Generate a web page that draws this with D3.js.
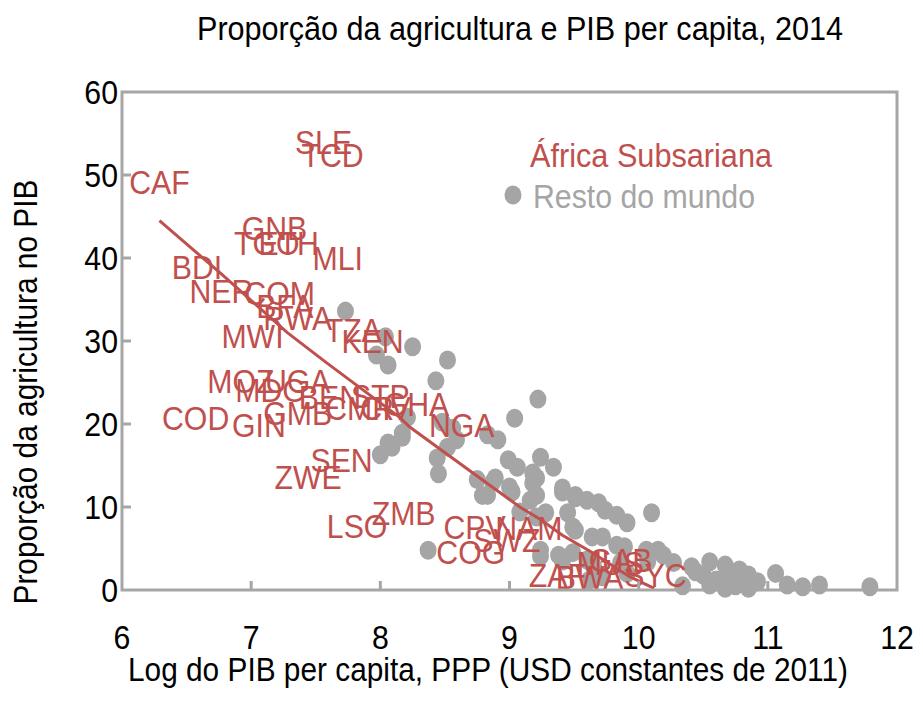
<!DOCTYPE html>
<html>
<head>
<meta charset="utf-8">
<script src="https://cdn.jsdelivr.net/npm/d3@7"></script>
<style>
  body { margin: 0; background: #fff; }
  text { font-family: "Liberation Sans", Arial, sans-serif; }
</style>
</head>
<body>
<script>
// CHART VALUES
const titleText = "Proporção da agricultura e PIB per capita, 2014";
const xTitle = "Log do PIB per capita, PPP (USD constantes de 2011)";
const yTitle = "Proporção da agricultura no PIB";
const xTicks = [6, 7, 8, 9, 10, 11, 12];
const yTicks = [0, 10, 20, 30, 40, 50, 60];
const legendNames = ["África Subsariana", "Resto do mundo"];

// sub-saharan africa: [code, log gdp pc, agri share]
const ssaCodes = ["SLE","TCD","CAF","GNB","TGO","ETH","MLI","BDI","NER","COM","BFA","RWA","TZA","KEN","MWI",
  "MOZ","UGA","MDG","BEN","STP","CMR","CIV","GHA","NGA","COD","GIN","GMB","SEN","ZWE","LSO","ZMB",
  "CPV","NAM","SWZ","COG","ZAF","BWA","MUS","GAB","SYC"];
const ssaX = [7.56,7.63,6.29,7.18,7.12,7.29,7.67,6.58,6.77,7.22,7.26,7.36,7.79,7.94,7.01,
  6.92,7.36,7.15,7.61,8.00,7.84,8.04,8.28,8.63,6.57,7.06,7.36,7.70,7.44,7.82,8.18,
  8.73,9.15,8.98,8.70,9.37,9.62,9.78,9.86,10.13];
const ssaY = [54.0,52.4,49.2,43.6,41.8,41.8,40.0,39.0,36.1,35.8,34.2,32.8,31.3,30.0,30.6,
  25.2,25.2,24.1,23.3,23.4,21.9,22.0,22.4,19.9,20.8,19.9,21.3,15.7,13.7,7.8,9.3,
  7.6,7.5,6.0,4.6,1.8,1.6,3.3,3.6,1.8];

// rest of the world
const restX = [7.73,8.04,8.25,7.97,8.06,8.52,8.43,8.21,8.17,8.06,8.00,8.09,8.17,
  8.48,8.56,8.59,8.52,8.44,8.45,8.37,
  8.83,8.91,9.04,9.22,8.75,8.83,8.89,8.99,9.06,9.00,8.79,8.87,9.02,9.08,
  9.24,9.34,9.18,9.21,9.21,9.16,9.28,9.41,9.51,9.24,9.24,9.45,9.49,9.38,9.41,9.21,9.18,
  9.41,9.51,9.60,9.69,9.74,9.83,9.91,9.51,9.64,9.72,9.83,9.89,9.49,9.60,9.65,9.72,9.62,9.86,9.91,
  10.10,10.06,10.15,10.19,10.27,10.07,10.34,10.41,10.44,
  10.55,10.50,10.67,10.78,10.85,10.92,10.71,10.60,10.55,10.67,10.75,10.85,
  11.06,11.15,11.27,11.40,11.79];
const restY = [33.6,30.5,29.3,28.3,27.1,27.7,25.2,20.8,18.9,17.7,16.3,17.2,18.4,
  20.2,19.5,18.1,17.2,15.9,14.0,4.8,
  18.7,18.1,20.7,23.0,13.3,11.4,13.5,15.7,14.8,12.4,11.4,13.0,11.8,9.4,
  16.0,14.8,14.1,13.5,11.4,10.8,9.3,11.8,11.1,4.8,4.1,9.3,7.6,4.2,3.5,8.8,12.9,
  12.3,11.4,10.8,10.5,9.6,9.0,8.1,7.2,6.4,6.4,5.4,5.2,4.5,3.6,2.9,1.6,1.2,3.3,2.0,
  9.3,4.8,4.8,4.2,3.3,3.4,0.5,2.8,2.2,
  3.4,1.8,3.0,2.4,1.8,1.0,1.4,1.2,0.6,0.2,0.5,0.2,
  2.0,0.6,0.4,0.6,0.4];

// fitted line
const fitX = [6.29,6.76,7.28,7.59,8.15,8.23,8.77,9.08,9.24,9.41,9.63,9.93,10.12];
const fitY = [44.5,38.2,31.0,27.3,20.8,19.6,13.5,10.0,8.5,6.6,4.6,1.6,0.2];

// SIZES
const W = 923, H = 706;
const plot = {left: 122, right: 897, top: 92, bottom: 590};
const red = "#C0504D", grey = "#A5A5A5", axisGrey = "#A6A6A6";
const sx = 0.89;

const svg = d3.select("body").append("svg")
  .attr("width", W).attr("height", H);

const x = d3.scaleLinear().domain([6, 12]).range([plot.left, plot.right]);
const y = d3.scaleLinear().domain([0, 60]).range([plot.bottom, plot.top]);

// TITLE
svg.append("text")
  .attr("x", 520).attr("y", 40)
  .attr("text-anchor", "middle")
  .style("font-size", "33px")
  .attr("textLength", 646).attr("lengthAdjust", "spacingAndGlyphs")
  .text(titleText);

// DOTS
const restData = restX.map((v, i) => ({x: v, y: restY[i]}));
svg.append("g").selectAll("ellipse")
  .data(restData).join("ellipse")
  .attr("cx", d => x(d.x)).attr("cy", d => y(d.y))
  .attr("rx", 8.5).attr("ry", 9.5)
  .attr("fill", grey);

// COUNTRY LABELS
const ssaData = ssaCodes.map((c, i) => ({c: c, x: ssaX[i], y: ssaY[i]}));
svg.append("g").selectAll("text")
  .data(ssaData).join("text")
  .attr("transform", d => `translate(${x(d.x)},${y(d.y)}) scale(${sx},1)`)
  .attr("text-anchor", "middle")
  .attr("dy", "0.36em")
  .style("font-size", "34px")
  .attr("fill", red)
  .text(d => d.c);

// TREND LINE
const fitData = fitX.map((v, i) => ({x: v, y: fitY[i]}));
svg.append("path")
  .datum(fitData)
  .attr("fill", "none")
  .attr("stroke", red)
  .attr("stroke-width", 3)
  .attr("d", d3.line().x(d => x(d.x)).y(d => y(d.y)));

// FRAME + TICKS
svg.append("rect")
  .attr("x", plot.left).attr("y", plot.top)
  .attr("width", plot.right - plot.left).attr("height", plot.bottom - plot.top)
  .attr("fill", "none").attr("stroke", axisGrey).attr("stroke-width", 3);

svg.append("g").selectAll("line")
  .data(yTicks.slice(1, -1)).join("line")
  .attr("x1", plot.left).attr("x2", plot.left + 9)
  .attr("y1", d => y(d)).attr("y2", d => y(d))
  .attr("stroke", axisGrey).attr("stroke-width", 3);

svg.append("g").selectAll("line")
  .data(xTicks.slice(1, -1)).join("line")
  .attr("x1", d => x(d)).attr("x2", d => x(d))
  .attr("y1", plot.bottom).attr("y2", plot.bottom - 9)
  .attr("stroke", axisGrey).attr("stroke-width", 3);

// TICK LABELS
svg.append("g").selectAll("text")
  .data(yTicks).join("text")
  .attr("transform", d => `translate(${plot.left - 4},${y(d)}) scale(${sx},1)`)
  .attr("text-anchor", "end")
  .attr("dy", "0.36em")
  .style("font-size", "34px")
  .text(d => d);

svg.append("g").selectAll("text")
  .data(xTicks).join("text")
  .attr("transform", d => `translate(${x(d)},${plot.bottom + 47}) scale(${sx},1)`)
  .attr("text-anchor", "middle")
  .attr("dy", "0.36em")
  .style("font-size", "34px")
  .text(d => d);

// AXIS TITLES
svg.append("text")
  .attr("x", 488).attr("y", 681)
  .attr("text-anchor", "middle")
  .style("font-size", "33px")
  .attr("textLength", 720).attr("lengthAdjust", "spacingAndGlyphs")
  .text(xTitle);

svg.append("text")
  .attr("transform", "translate(37,392) rotate(-90)")
  .attr("text-anchor", "middle")
  .style("font-size", "33px")
  .attr("textLength", 425).attr("lengthAdjust", "spacingAndGlyphs")
  .text(yTitle);

// LEGEND
svg.append("text")
  .attr("x", 530).attr("y", 155).attr("dy", "0.36em")
  .style("font-size", "33px")
  .attr("textLength", 242).attr("lengthAdjust", "spacingAndGlyphs")
  .attr("fill", red)
  .text(legendNames[0]);

svg.append("ellipse")
  .attr("cx", 513).attr("cy", 195).attr("rx", 8.5).attr("ry", 9.5)
  .attr("fill", grey);
svg.append("text")
  .attr("x", 533).attr("y", 196).attr("dy", "0.36em")
  .style("font-size", "33px")
  .attr("textLength", 222).attr("lengthAdjust", "spacingAndGlyphs")
  .attr("fill", grey)
  .text(legendNames[1]);
</script>
</body>
</html>
